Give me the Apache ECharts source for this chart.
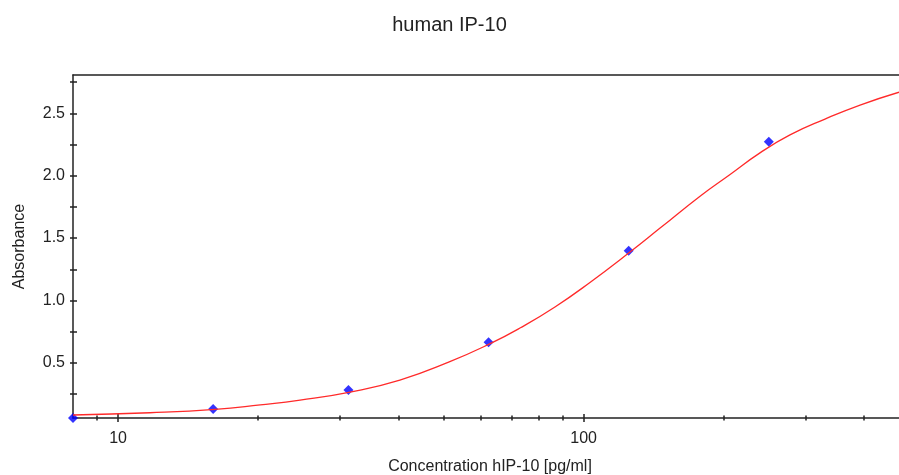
<!DOCTYPE html>
<html>
<head>
<meta charset="utf-8">
<script src="https://cdn.jsdelivr.net/npm/echarts@6/dist/echarts.min.js"></script>
<style>
html,body{margin:0;padding:0;background:#fff;}
#chart{width:899px;height:475px;}
</style>
</head>
<body>
<div id="chart"></div>
<script>
const chartTitle = 'human IP-10';
const xName = 'Concentration hIP-10 [pg/ml]';
const yName = 'Absorbance';

// standards (measured points)
const stdConc = [8, 16, 31.25, 62.5, 125, 250];
const stdAbs = [0.058, 0.130, 0.283, 0.665, 1.399, 2.272];

// fitted curve
const fitConc = [8, 11.7, 16.15, 20.2, 24.6, 31.5, 40.3, 51.6, 63, 73, 86.8, 103.2, 125.8, 146, 177.9, 206.4, 239.3, 277.6, 330.1, 392.6, 476];
const fitAbs  = [0.082, 0.100, 0.127, 0.163, 0.201, 0.266, 0.362, 0.510, 0.654, 0.779, 0.948, 1.144, 1.388, 1.580, 1.836, 2.010, 2.183, 2.327, 2.454, 2.566, 2.669];

// axis ticks / labels
const xMajorTicks = [10, 100];
const xMinorTicks = [9, 20, 30, 40, 50, 60, 70, 80, 90, 200, 300, 400];
const yTicks = [0.25, 0.5, 0.75, 1.0, 1.25, 1.5, 1.75, 2.0, 2.25, 2.5, 2.75];
const yLabels = [0.5, 1.0, 1.5, 2.0, 2.5];

const X_MIN = 8, X_MAX = 476;
const Y_MIN = 0.058, Y_MAX = 2.807;

const FONT = "'Liberation Sans', Arial, sans-serif";
const AX = '#222';

function xAx(extra) {
  return Object.assign({
    type: 'log', logBase: 10, min: X_MIN, max: X_MAX, position: 'bottom',
    axisLine: { show: false, onZero: false },
    axisTick: { show: false },
    axisLabel: { show: false },
    splitLine: { show: false },
    minorTick: { show: false },
    minorSplitLine: { show: false }
  }, extra);
}
function yAx(extra) {
  return Object.assign({
    type: 'value', min: Y_MIN, max: Y_MAX, position: 'left',
    axisLine: { show: false, onZero: false },
    axisTick: { show: false },
    axisLabel: { show: false },
    splitLine: { show: false }
  }, extra);
}

const chart = echarts.init(document.getElementById('chart'), null, { renderer: 'canvas' });
chart.setOption({
  animation: false,
  backgroundColor: '#fff',
  title: {
    text: chartTitle, left: 'center', top: 10, padding: [5, 0, 5, 6],
    textStyle: { fontFamily: FONT, fontSize: 20, fontWeight: 'normal', color: AX }
  },
  grid: { left: 73, right: 0, top: 75, bottom: 57, containLabel: false, outerBoundsMode: 'none' },
  xAxis: [
    xAx({
      axisLine: { show: true, onZero: false, lineStyle: { color: AX, width: 1.5 } },
      axisTick: { show: true, inside: false, length: 4, customValues: xMajorTicks, lineStyle: { color: AX, width: 1.5 } },
      axisLabel: { show: true, customValues: xMajorTicks, margin: 13, fontFamily: FONT, fontSize: 16, color: AX,
        formatter: v => String(Math.round(v)) },
      name: xName, nameLocation: 'middle', nameGap: 41,
      nameTextStyle: { fontFamily: FONT, fontSize: 16, color: AX, padding: [0, 0, 0, 8] }
    }),
    xAx({ axisTick: { show: true, inside: true, length: 4, customValues: xMajorTicks, lineStyle: { color: AX, width: 1.5 } } }),
    xAx({ axisTick: { show: true, inside: false, length: 2.5, customValues: xMinorTicks, lineStyle: { color: AX, width: 1.5 } } }),
    xAx({ axisTick: { show: true, inside: true, length: 2.5, customValues: xMinorTicks, lineStyle: { color: AX, width: 1.5 } } }),
    xAx({ position: 'top', axisLine: { show: true, onZero: false, lineStyle: { color: AX, width: 1.5 } } })
  ],
  yAxis: [
    yAx({
      axisLine: { show: true, onZero: false, lineStyle: { color: AX, width: 1.5 } },
      axisTick: { show: true, inside: false, length: 3, customValues: yTicks, lineStyle: { color: AX, width: 1.5 } },
      axisLabel: { show: true, customValues: yLabels, margin: 8, fontFamily: FONT, fontSize: 16, color: AX,
        formatter: v => Number(v).toFixed(1) },
      name: yName, nameLocation: 'middle', nameGap: 45, nameRotate: 90,
      nameTextStyle: { fontFamily: FONT, fontSize: 16, color: AX }
    }),
    yAx({ axisTick: { show: true, inside: true, length: 4, customValues: yTicks, lineStyle: { color: AX, width: 1.5 } } })
  ],
  series: [
    {
      type: 'scatter', name: 'standards',
      data: stdConc.map((c, i) => [c, stdAbs[i]]),
      symbol: 'diamond', symbolSize: [10, 10],
      itemStyle: { color: '#0000ff' },
      clip: false, z: 2
    },
    {
      type: 'line', name: 'fit',
      data: fitConc.map((c, i) => [c, fitAbs[i]]),
      smooth: 0.5, showSymbol: false, symbol: 'none',
      lineStyle: { color: '#ff2a2a', width: 1.3 },
      clip: true, z: 3
    }
  ]
});
</script>
</body>
</html>
